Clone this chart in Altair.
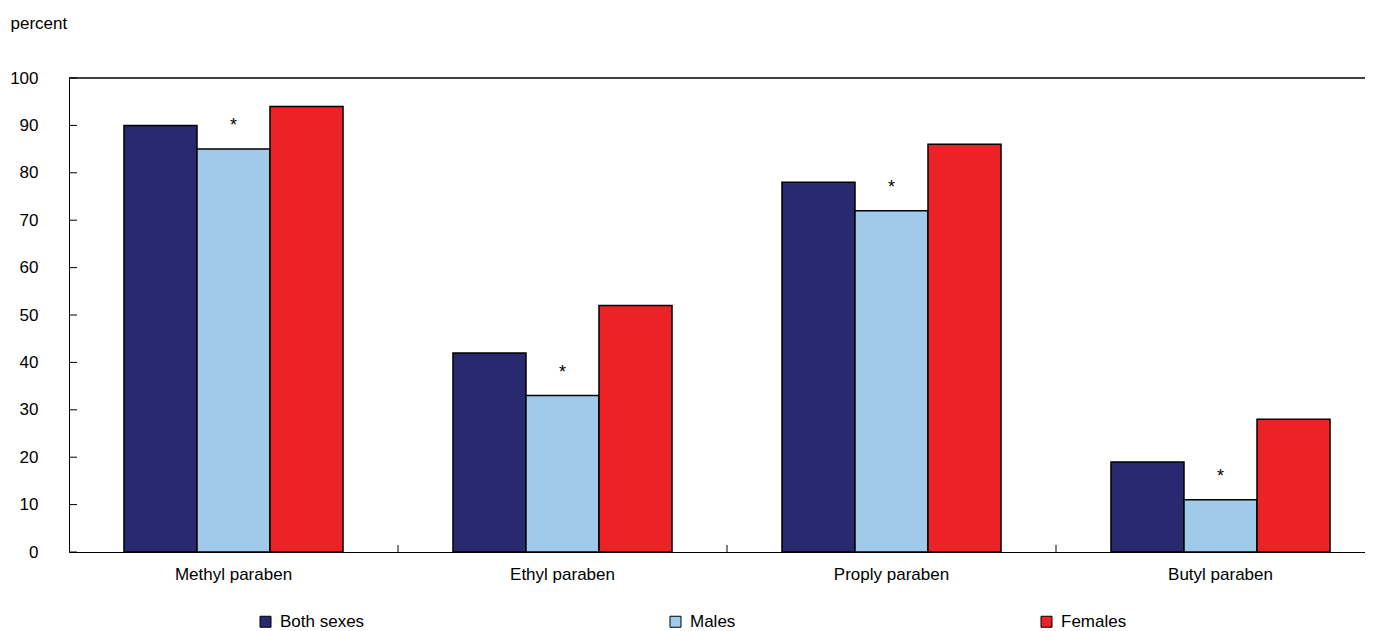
import altair as alt
import pandas as pd

categories = ["Methyl paraben", "Ethyl paraben", "Proply paraben", "Butyl paraben"]
groups = ["Both sexes", "Males", "Females"]
both_sexes = [90, 42, 78, 19]
males = [85, 33, 72, 11]
females = [94, 52, 86, 28]
male_flags = ["*", "*", "*", "*"]
y_ticks = [0, 10, 20, 30, 40, 50, 60, 70, 80, 90, 100]
colors = ["#29296f", "#a1caea", "#ec2227"]

rows = []
for i, c in enumerate(categories):
    for g, vals in zip(groups, [both_sexes, males, females]):
        rows.append({"category": c, "group": g, "value": vals[i]})
df = pd.DataFrame(rows)
flag_df = pd.DataFrame({"category": categories, "group": ["Males"] * 4,
                        "value": males, "flag": male_flags})
tick_df = pd.DataFrame({"tick": y_ticks})
top_df = pd.DataFrame({"tick": [y_ticks[-1]]})
boundary_df = pd.DataFrame({"category": categories[1:]})

FONT = "Liberation Sans"
FS = 17

x_scale = alt.Scale(domain=categories, range=[0, 1316], paddingInner=0, paddingOuter=0)
y_scale = alt.Scale(domain=[0, 100], nice=False)
off_scale = alt.Scale(domain=groups, paddingInner=0, paddingOuter=0.753)

x_axis = alt.Axis(title="", labelAngle=0, ticks=False, tickSize=0, labelPadding=14,
                  domainColor="black", labelFontSize=FS, labelColor="black",
                  labelFont=FONT, grid=False)
y_axis = alt.Axis(values=y_ticks, title="percent", titleAngle=0, titleX=-59, titleY=-50,
                  titleAlign="left", titleBaseline="alphabetic", titleFontSize=FS,
                  titleFontWeight="normal", titleFont=FONT, titleColor="black",
                  ticks=False, tickSize=0, labelPadding=31, grid=False,
                  domainColor="black", labelFontSize=FS, labelColor="black", labelFont=FONT)

bars = alt.Chart(df).mark_bar(stroke="black", strokeWidth=1.5).encode(
    x=alt.X("category:N", scale=x_scale, axis=x_axis, sort=categories),
    xOffset=alt.XOffset("group:N", scale=off_scale, sort=groups),
    y=alt.Y("value:Q", scale=y_scale, axis=y_axis),
    fill=alt.Fill("group:N", scale=alt.Scale(domain=groups, range=colors), sort=groups,
                  legend=alt.Legend(orient="none", legendX=188, legendY=535,
                                    direction="horizontal", title=None,
                                    symbolType="square", symbolSize=121,
                                    symbolStrokeColor="black", symbolStrokeWidth=1,
                                    symbolOpacity=1, labelFontSize=FS, labelFont=FONT,
                                    labelColor="black", labelOffset=6,
                                    columnPadding=302, padding=0)),
)

stars = alt.Chart(flag_df).mark_text(dy=-18, fontSize=18, font=FONT, color="black",
                                     baseline="alphabetic").encode(
    x=alt.X("category:N", scale=x_scale, axis=x_axis, sort=categories),
    xOffset=alt.XOffset("group:N", scale=off_scale, sort=groups),
    y=alt.Y("value:Q", scale=y_scale, axis=y_axis),
    text="flag:N",
)

ytick_rules = alt.Chart(tick_df).mark_rule(color="black", strokeWidth=1).encode(
    y=alt.Y("tick:Q", scale=y_scale, axis=y_axis),
    x=alt.value(0),
    x2=alt.value(8),
)

top_rule = alt.Chart(top_df).mark_rule(color="black", strokeWidth=1.5).encode(
    y=alt.Y("tick:Q", scale=y_scale, axis=y_axis),
    x=alt.value(0),
    x2=alt.value(1316),
)

xtick_rules = alt.Chart(boundary_df).mark_rule(color="black", strokeWidth=1).encode(
    x=alt.X("category:N", scale=x_scale, axis=x_axis, bandPosition=0, sort=categories),
    y=alt.value(474),
    y2=alt.value(467),
)

chart = alt.layer(bars, stars, ytick_rules, top_rule, xtick_rules).properties(
    width=1296,
    height=474,
    autosize=alt.AutoSizeParams(type="none"),
    padding={"left": 61, "top": 70, "right": 0, "bottom": 79},
).configure(font=FONT).configure_view(strokeWidth=0)

chart.save("out.html", embed_options={"renderer": "svg", "actions": False})
